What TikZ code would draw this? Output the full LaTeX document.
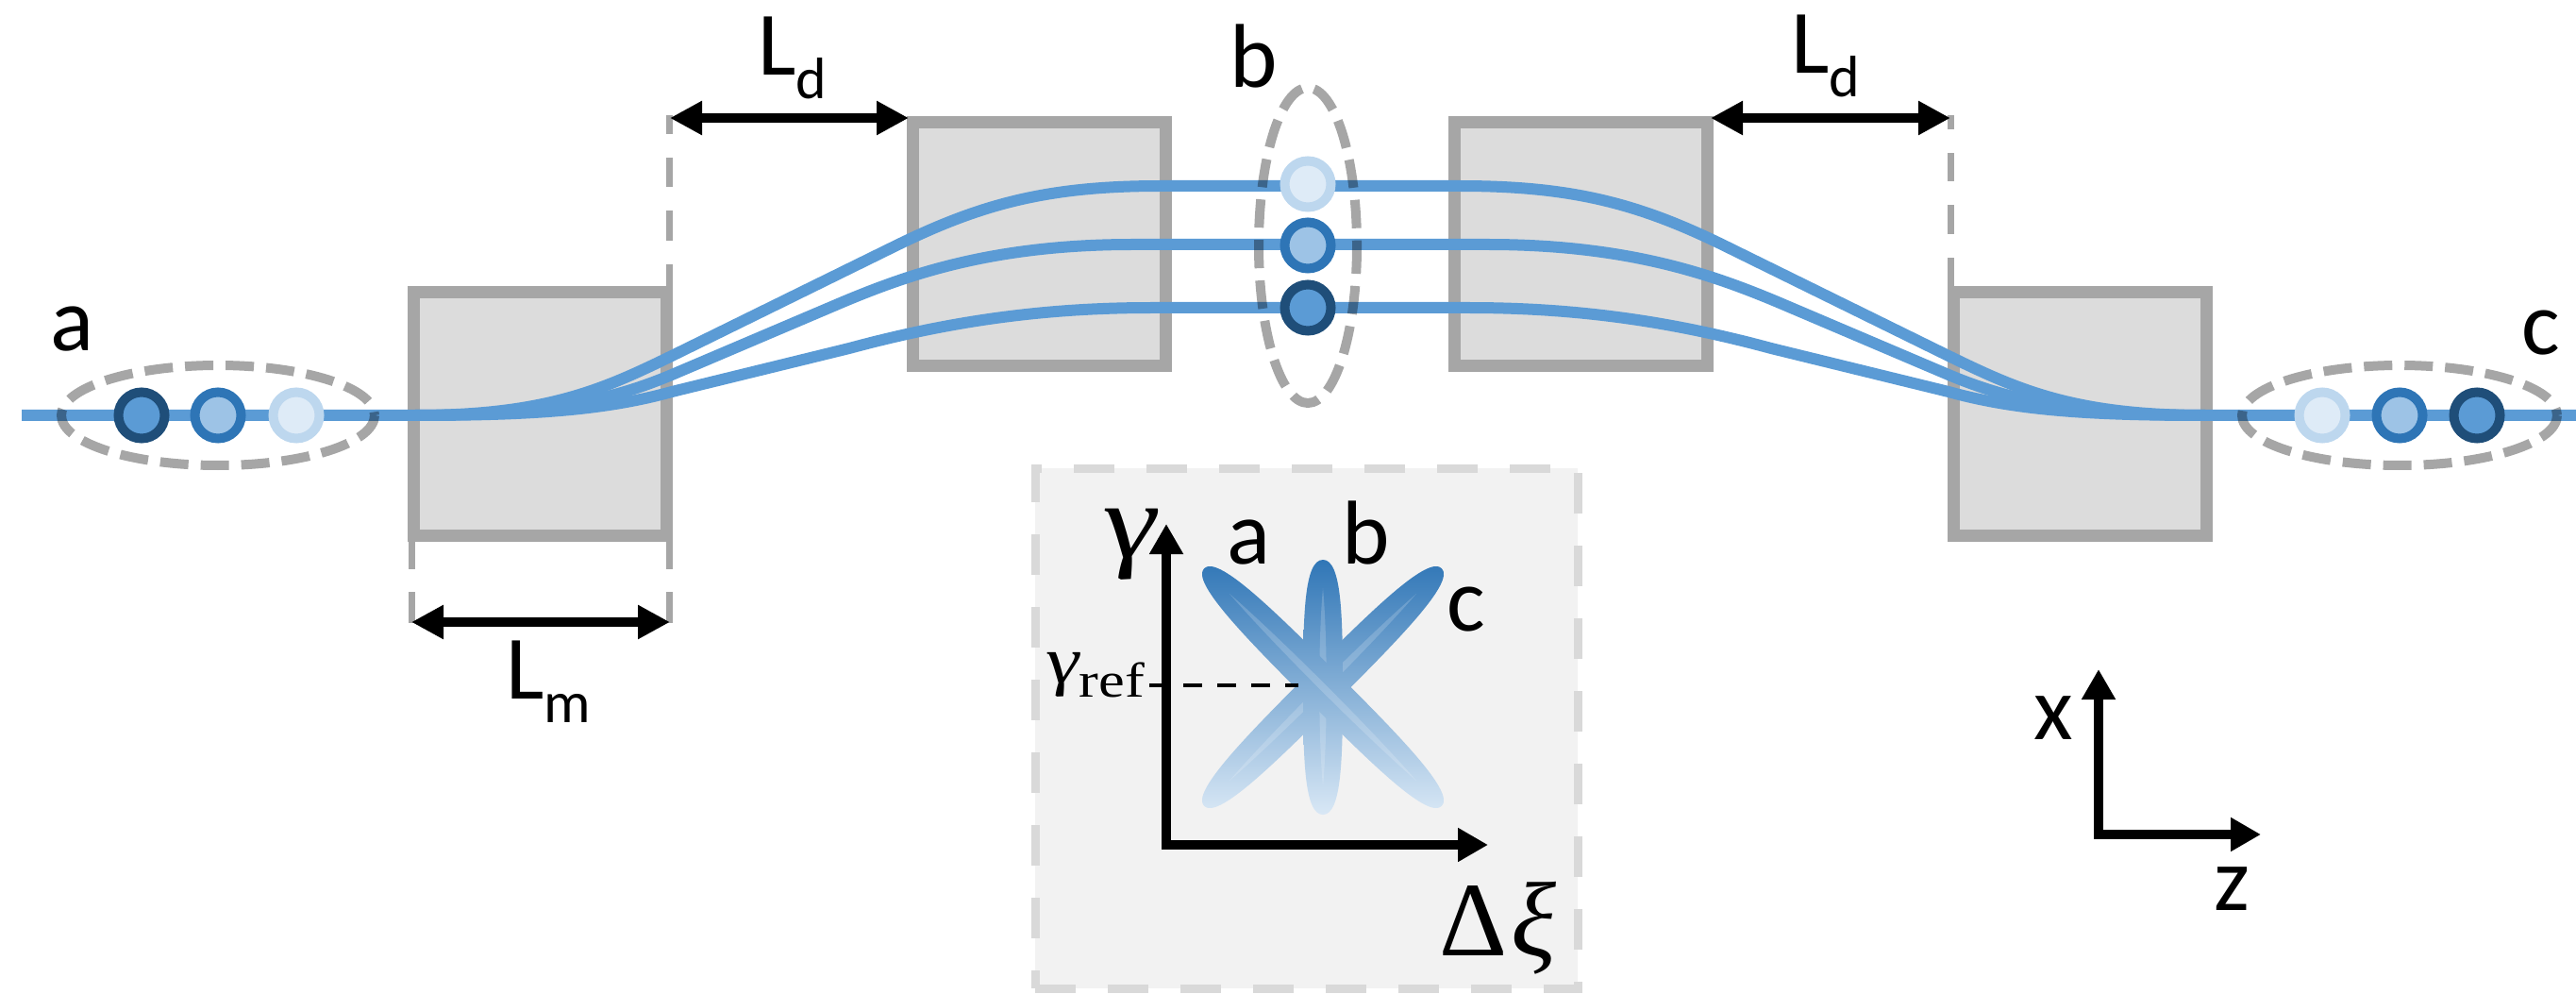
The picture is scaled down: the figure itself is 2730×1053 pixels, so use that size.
\documentclass[tikz,border=0pt]{standalone}
\usepackage{fontspec}
\setmainfont{Carlito}
\newfontfamily\symserif{Liberation Serif}
\newfontfamily\slantserif[FakeSlant=0.12,FakeStretch=1.2]{Liberation Serif}
\newfontfamily\wideserif[FakeStretch=1.2]{Liberation Serif}
\usetikzlibrary{arrows.meta}
\definecolor{beam}{HTML}{5B9BD5}
\definecolor{boxfill}{HTML}{DCDCDC}
\definecolor{boxline}{HTML}{A6A6A6}
\definecolor{insetfill}{HTML}{F2F2F2}
\definecolor{insetline}{HTML}{D9D9D9}
\definecolor{darkrim}{HTML}{1F4E79}
\definecolor{midrim}{HTML}{2E75B6}
\definecolor{midfill}{HTML}{9DC3E6}
\definecolor{lightrim}{HTML}{BDD7EE}
\definecolor{lightfill}{HTML}{DEEBF7}
\tikzset{
  magnet/.style={draw=boxline,fill=boxfill,line width=6.5pt,minimum width=134pt,minimum height=129pt,inner sep=0pt,outer sep=0pt},
  beamline/.style={draw=beam,line width=6pt},
  group/.style={draw=boxline,line width=5pt,dash pattern=on 15pt off 6.5pt,fill=none},
  bunchdark/.style={circle,draw=darkrim,fill=beam,line width=5pt,minimum size=24.5pt,inner sep=0pt},
  bunchmid/.style={circle,draw=midrim,fill=midfill,line width=5pt,minimum size=24.5pt,inner sep=0pt},
  bunchlight/.style={circle,draw=lightrim,fill=lightfill,line width=5pt,minimum size=24.5pt,inner sep=0pt},
  dim/.style={line width=5pt,{Triangle[length=17pt,width=17pt]}-{Triangle[length=17pt,width=17pt]}},
  tick/.style={draw=boxline,line width=3.5pt},
  axisline/.style={line width=5pt,miter limit=10,{Triangle[length=16pt,width=17pt]}-{Triangle[length=16pt,width=17pt]}},
  lab/.style={font=\fontsize{48}{48}\selectfont,inner sep=0pt,anchor=base},
}
\newcommand{\subtext}[1]{\raisebox{-12.5pt}{\fontsize{31}{31}\selectfont #1}}
\newcommand{\petal}[1]{(-#1,0) .. controls (-#1,-20) and (-#1*0.55,-21) .. (0,-21) .. controls (#1*0.55,-21) and (#1,-20) .. (#1,0) .. controls (#1,20) and (#1*0.55,21) .. (0,21) .. controls (-#1*0.55,21) and (-#1,20) .. (-#1,0) -- cycle}
\newcommand{\streak}[1]{(-#1,0) .. controls (-#1*0.5,-5) and (#1*0.5,-5) .. (#1,0) .. controls (#1*0.5,5) and (-#1*0.5,5) .. (-#1,0) -- cycle}
\newcommand{\drawpetal}[3]{%
  \begin{scope}
    \clip[shift={(1402,728)},rotate=#1] \petal{#2};
    \shade[top color=midrim,bottom color=lightfill!90!lightrim] (1260,590) rectangle (1545,866);
  \end{scope}
  \fill[white,opacity=0.18,shift={(1402,728)},rotate=#1] \streak{#3};
}
\begin{document}
\begin{tikzpicture}[x=0.5pt,y=-0.5pt]
\useasboundingbox (0,0) rectangle (2730,1053);
% magnets
\node[magnet] (m1) at (572.5,438.5) {};
\node[magnet] (m2) at (1101,258.5) {};
\node[magnet] (m3) at (1675.5,258.5) {};
\node[magnet] (m4) at (2204,438.5) {};
% dimension ticks
\draw[tick] (436,574) -- (436,603) (436,627) -- (436,660);
\draw[tick] (709,574) -- (709,603) (709,627) -- (709,660);
\draw[tick] (709,303) -- (709,280) (709,255) -- (709,223) (709,198) -- (709,167) (709,142) -- (709,122);
\draw[tick] (2067,303) -- (2067,273) (2067,248) -- (2067,217) (2067,192) -- (2067,162) (2067,137) -- (2067,122);
% beams
\coordinate (bs) at (23,440);
\coordinate (be) at (2730,440);
\draw[beamline] (bs) -- (440,440) .. controls (580,440) and (640,412) .. (712,377) -- (950,260) .. controls (1040,216) and (1110,197) .. (1230,197) -- (1547,197) .. controls (1667,197) and (1737,216) .. (1827,260) -- (2065,377) .. controls (2137,412) and (2197,440) .. (2337,440) -- (be);
\draw[beamline] (440,440) .. controls (580,440) and (650,423) .. (712,397) -- (893,320) .. controls (960,292) and (1050,259) .. (1200,259) -- (1577,259) .. controls (1727,259) and (1817,292) .. (1884,320) -- (2065,397) .. controls (2127,423) and (2197,440) .. (2337,440);
\draw[beamline] (440,440) .. controls (560,440) and (640,435) .. (712,415) -- (900,369) .. controls (1000,342) and (1100,326) .. (1220,326) -- (1557,326) .. controls (1677,326) and (1777,342) .. (1877,369) -- (2065,415) .. controls (2137,435) and (2217,440) .. (2337,440);
% groups
\begin{scope}[blend mode=multiply]
\draw[group] (231,440) ellipse (166 and 53);
\draw[group] (2543,440) ellipse (167 and 53);
\draw[group] (1386,260) ellipse (52 and 167);
\end{scope}
% bunches
\node[bunchdark] (a1) at (150,440) {};
\node[bunchmid] (a2) at (231,440) {};
\node[bunchlight] (a3) at (314,440) {};
\node[bunchlight] (b1) at (1386,195) {};
\node[bunchmid] (b2) at (1386,260) {};
\node[bunchdark] (b3) at (1386,326) {};
\node[bunchlight] (c1) at (2461,440) {};
\node[bunchmid] (c2) at (2543,440) {};
\node[bunchdark] (c3) at (2625,440) {};
% labels
\node[lab] (la) at (76,372) {a};
\node[lab] (lb) at (1329,93) {b};
\node[lab] (lc) at (2693,376) {c};
\coordinate (lmL) at (436,659); \coordinate (lmR) at (710,659);
\draw[dim] (lmL) -- (lmR);
\node[lab,anchor=base west] (lm) at (536,740) {L\subtext{m}};
\coordinate (ld1L) at (710,125); \coordinate (ld1R) at (963,125);
\draw[dim] (ld1L) -- (ld1R);
\node[lab,anchor=base west] (ld1) at (803,80) {L\subtext{d}};
\coordinate (ld2L) at (1813,125); \coordinate (ld2R) at (2067,125);
\draw[dim] (ld2L) -- (ld2R);
\node[lab,anchor=base west] (ld2) at (1898,78) {L\subtext{d}};
% inset
\node[draw=insetline,fill=insetfill,line width=4.5pt,dash pattern=on 21.5pt off 17pt,minimum width=287.5pt,minimum height=275.5pt,inner sep=0pt,outer sep=0pt] (inset) at (1384.5,771.5) {};
\drawpetal{45}{178}{140}
\drawpetal{90}{135}{105}
\drawpetal{-45}{178}{140}
\coordinate (gy) at (1236,555);
\coordinate (ax) at (1577,895);
\draw[axisline] (gy) |- (ax);
\coordinate (grefL) at (1218,726); \coordinate (grefR) at (1376,726);
\draw[line width=2.3pt,dash pattern=on 10pt off 8pt] (grefL) -- (grefR);
\node[lab] (ia) at (1323,597) {a};
\node[lab] (ib) at (1448,597) {b};
\node[lab] (ic) at (1554,668) {c};
\node[inner sep=0pt,anchor=base] (gam) at (1195,590) {\fontsize{56}{56}\selectfont\slantserif γ};
\node[inner sep=0pt,anchor=base west] (gref) at (1106,723) {\fontsize{35}{35}\selectfont\slantserif γ\raisebox{-7.5pt}{\wideserif\fontsize{26}{26}\selectfont ref}};
\node[inner sep=0pt,anchor=base west] (dxi) at (1525,1012) {\fontsize{56}{56}\selectfont\symserif Δ\kern2pt\itshape ξ};
% frame
\coordinate (xtip) at (2224,709);
\coordinate (ztip) at (2396,884);
\draw[axisline] (xtip) |- (ztip);
\node[lab] (lx) at (2176,783) {x};
\node[lab] (lz) at (2365,964) {z};
\end{tikzpicture}
\end{document}
